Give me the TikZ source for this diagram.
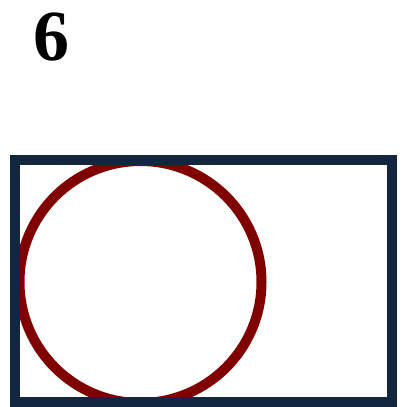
\documentclass[tikz,border=0pt]{standalone}
\usepackage{fontspec}
\setmainfont{Liberation Serif}
\definecolor{navy}{HTML}{13263F}
\definecolor{darkred}{HTML}{800000}
\begin{document}
\begin{tikzpicture}[x=1pt,y=-1pt,
  framebox/.style={draw=navy,line width=10pt},
  ring/.style={draw=darkred,line width=10pt},
  label/.style={font=\fontsize{72}{72}\selectfont\bfseries,inner sep=0pt}]
\useasboundingbox (0,0) rectangle (406,407);
\node[ring,circle,minimum size=242pt,inner sep=0pt] (c) at (140.5,282) {};
\node[framebox,rectangle,minimum width=377.5pt,minimum height=241.7pt,inner sep=0pt,anchor=north west,outer sep=0pt] (r) at (14.5,160) {};
\node[label,anchor=base] (t) at (51,60) {6};
\end{tikzpicture}
\end{document}
